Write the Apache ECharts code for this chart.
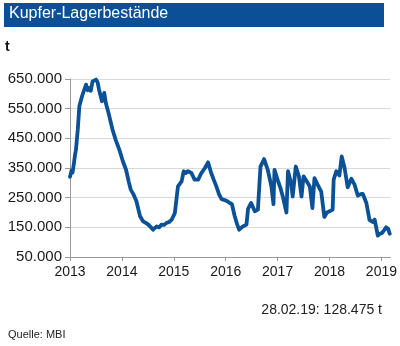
<!DOCTYPE html>
<html><head><meta charset="utf-8">
<script src="https://cdn.jsdelivr.net/npm/echarts@6/dist/echarts.min.js"></script>
<style>html,body{margin:0;padding:0;background:#fff}#c{width:400px;height:346px}</style>
</head><body><div id="c"></div>
<script>
// decimal years
const years = [2013.00,2013.03,2013.05,2013.08,2013.10,2013.115,2013.15,2013.18,2013.23,2013.275,2013.31,2013.34,2013.37,2013.40,2013.435,2013.47,2013.50,2013.53,2013.56,2013.615,2013.66,2013.69,2013.75,2013.82,2013.88,2013.95,2014.02,2014.08,2014.13,2014.17,2014.22,2014.28,2014.35,2014.41,2014.46,2014.51,2014.56,2014.60,2014.67,2014.72,2014.76,2014.81,2014.86,2014.91,2014.96,2015.02,2015.08,2015.15,2015.19,2015.23,2015.27,2015.34,2015.40,2015.47,2015.53,2015.60,2015.66,2015.72,2015.77,2015.82,2015.87,2015.92,2016.01,2016.08,2016.12,2016.17,2016.22,2016.26,2016.33,2016.40,2016.43,2016.49,2016.56,2016.62,2016.67,2016.74,2016.81,2016.88,2016.92,2016.94,2017.01,2017.05,2017.10,2017.17,2017.20,2017.26,2017.29,2017.35,2017.41,2017.46,2017.50,2017.56,2017.62,2017.67,2017.71,2017.77,2017.84,2017.90,2017.95,2018.00,2018.06,2018.08,2018.13,2018.19,2018.235,2018.29,2018.35,2018.42,2018.48,2018.545,2018.60,2018.64,2018.71,2018.77,2018.83,2018.87,2018.93,2018.97,2019.01,2019.05,2019.09,2019.13,2019.16];
const stocks = [320000,342000,335000,372000,398000,412000,480000,558000,591000,614000,631000,612000,620000,610000,642000,640000,648000,640000,614000,575000,603000,569000,530000,479000,445000,412000,372000,344000,305000,277000,262000,238000,187000,170000,165000,159000,150000,142000,153000,150000,159000,158000,165000,168000,176000,198000,288000,305000,339000,333000,339000,333000,311000,311000,333000,350000,369000,333000,310000,288000,262000,245000,240000,232000,228000,190000,160000,142000,153000,159000,212000,232000,204000,210000,355000,380000,344000,288000,228000,344000,305000,285000,254000,200000,339000,299000,254000,355000,322000,254000,322000,305000,288000,215000,316000,294000,270000,185000,200000,204000,210000,311000,339000,325000,389000,350000,285000,314000,295000,257000,262000,263000,232000,175000,168000,176000,122000,128000,131000,140000,150000,145000,128475];
const yearTicks = [2013,2014,2015,2016,2017,2018,2019];
const title = 'Kupfer-Lagerbestände';
const unit = 't';
const lastNote = '28.02.19: 128.475 t';
const source = 'Quelle: MBI';

const fmt = v => String(Math.round(v)).replace(/\B(?=(\d{3})+(?!\d))/g, '.');
const chart = echarts.init(document.getElementById('c'), null, {renderer:'canvas'});
chart.setOption({
  animation:false,
  textStyle:{fontFamily:'Liberation Sans, Arial, sans-serif'},
  graphic:[
    {type:'rect', shape:{x:4,y:3,width:380,height:24}, style:{fill:'#0b4f97'}},
    {type:'text', left:9, top:6, style:{text:title, fill:'#fff', font:'16px "Liberation Sans", Arial, sans-serif'}},
    {type:'text', left:5, top:40, style:{text:unit, fill:'#111', font:'bold 14px "Liberation Sans", Arial, sans-serif'}},
    {type:'text', right:18, top:303, style:{text:lastNote, fill:'#222', font:'14px "Liberation Sans", Arial, sans-serif'}},
    {type:'text', left:8, top:329, style:{text:source, fill:'#222', font:'11px "Liberation Sans", Arial, sans-serif'}}
  ],
  grid:{left:70, right:9, top:79, bottom:89, containLabel:false},
  xAxis:{type:'value', min:2013, max:2019.17, interval:1,
    axisLine:{show:true, lineStyle:{color:'#9a9a9a', width:1}},
    axisTick:{show:true, length:4, lineStyle:{color:'#9a9a9a'}, customValues:yearTicks},
    axisLabel:{color:'#1a1a1a', fontSize:14, margin:8, customValues:yearTicks, formatter:v=>String(Math.round(v))},
    splitLine:{show:false}},
  yAxis:{type:'value', min:50000, max:650000, interval:100000,
    axisLine:{show:true, lineStyle:{color:'#9a9a9a', width:1}},
    axisTick:{show:true, length:5, lineStyle:{color:'#9a9a9a'}},
    axisLabel:{color:'#1a1a1a', fontSize:15, margin:8, formatter:fmt},
    splitLine:{show:true, lineStyle:{color:'#d9d9d9', width:1}}},
  series:[{type:'line', data:years.map((y,i)=>[y,stocks[i]]), showSymbol:false, smooth:false,
    lineStyle:{color:'#0b5197', width:3.8, join:'round', cap:'round'}}]
});
</script></body></html>
